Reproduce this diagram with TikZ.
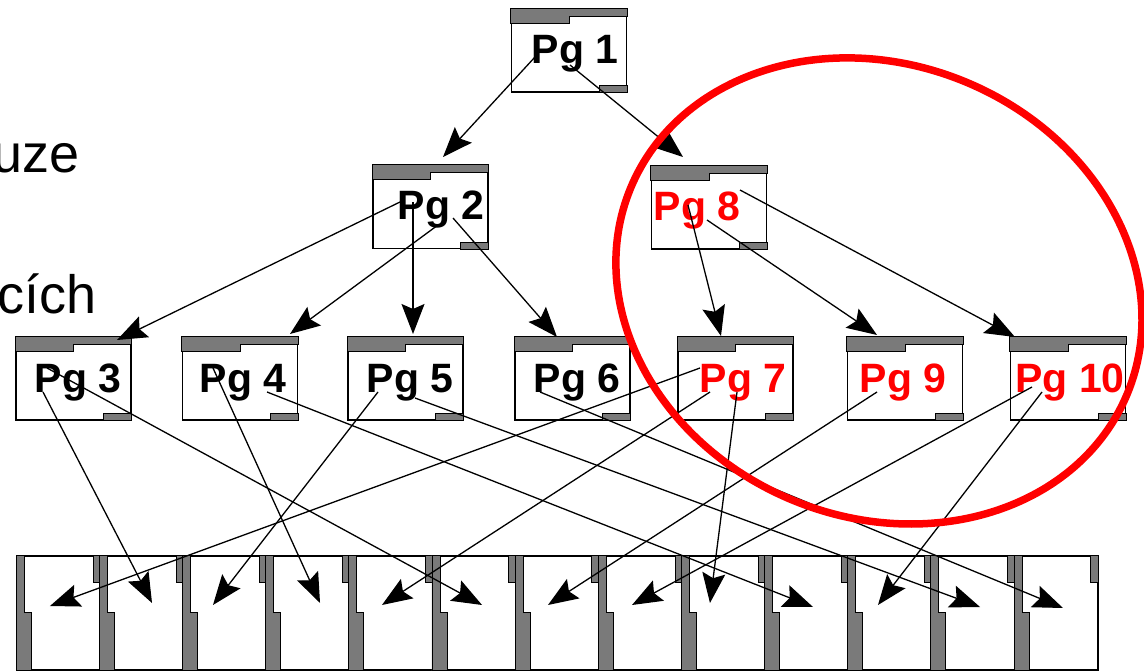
\documentclass[tikz,border=0pt]{standalone}
\usepackage{fontspec}
\setmainfont{Liberation Sans}
\usetikzlibrary{calc,arrows.meta}

\definecolor{hl}{RGB}{255,0,0}

\tikzset{
  pagebox/.style={draw, line width=1.6pt, fill=white,
    minimum width=115pt, minimum height=83pt, inner sep=0pt},
  leafbox/.style={draw, line width=1.6pt, fill=white,
    minimum width=83.15pt, minimum height=114pt, inner sep=0pt},
  hatch/.style={fill=black!52, draw=black, line width=0.9pt},
  pglabel/.style={font=\bfseries\fontsize{41pt}{41pt}\selectfont,
    anchor=base, inner sep=0pt},
  sidetext/.style={font=\fontsize{54pt}{54pt}\selectfont,
    anchor=base east, inner sep=0pt},
  link/.style={line width=1.3pt,
    -{Stealth[length=30pt,width=23pt,inset=5pt]}},
}

% index page: frame, stepped header band, small footer tab
\newcommand\pagenode[2]{%
  \node[pagebox] (#1) at (#2) {};
  \draw[hatch] (#1.north west) -- (#1.north east) -- ($(#1.north east)+(0,8)$)
    -- ($(#1.north)+(0,8)$) -- ($(#1.north)+(0,15)$)
    -- ($(#1.north west)+(0,15)$) -- cycle;
  \draw[hatch] ($(#1.south east)+(-28,-7)$) rectangle (#1.south east);
}

% leaf page: stepped strip on the left, small tab at the top right
\newcommand\leafnode[2]{%
  \node[leafbox] (#1) at (#2) {};
  \draw[hatch] (#1.north west) -- ($(#1.north west)+(8,0)$)
    -- ($(#1.north west)+(8,57)$) -- ($(#1.north west)+(15,57)$)
    -- ($(#1.south west)+(15,0)$) -- (#1.south west) -- cycle;
  \draw[hatch] ($(#1.north east)+(-8,0)$) rectangle ($(#1.north east)+(0,27)$);
}

\begin{document}
\begin{tikzpicture}[x=1pt, y=-1pt]
\useasboundingbox[fill=white] (0,0) rectangle (1144,671);

% cut-off slide text on the left
\node[sidetext] (t1) at (80,173) {uze};
\node[sidetext] (t2) at (97,313) {cích};

% index pages
\pagenode{pg1}{569,50.5}
\pagenode{pg2}{430.5,207}
\pagenode{pg8}{709,207.5}
\pagenode{pg3}{73.5,378.5}
\pagenode{pg4}{240,378.5}
\pagenode{pg5}{405.5,378.5}
\pagenode{pg6}{572.5,378.5}
\pagenode{pg7}{735.5,378.5}
\pagenode{pg9}{905,378.5}
\pagenode{pg10}{1068,378.5}

% leaf pages
\foreach \i in {1,...,13}{
  \leafnode{leaf\i}{17+83.15*\i-41.575,613}
}

% page labels
\node[pglabel] (l1) at (575,64) {Pg 1};
\node[pglabel] (l2) at (441,220) {Pg 2};
\node[pglabel, text=hl] (l8) at (697,221) {Pg 8};
\node[pglabel] (l3) at (78,392) {Pg 3};
\node[pglabel] (l4) at (243,392) {Pg 4};
\node[pglabel] (l5) at (410,392) {Pg 5};
\node[pglabel] (l6) at (577,392) {Pg 6};
\node[pglabel, text=hl] (l7) at (743,392) {Pg 7};
\node[pglabel, text=hl] (l9) at (903,392) {Pg 9};
\node[pglabel, text=hl] (l10) at (1070,392) {Pg 10};

% root level
\draw[link] ($(pg1)+(-34,6.5)$) -- ($(pg2)+(12.5,-50)$);
\draw[link] ($(pg1)+(1,14.5)$) -- ($(pg8)+(-26,-50.5)$);

% second level
\draw[link] ($(pg2)+(-30.5,-5)$) -- ($(pg3)+(43.5,-38.5)$);
\draw[link] ($(pg2)+(7.5,18)$) -- ($(pg4)+(50,-44.5)$);
\draw[link] ($(pg2)+(-17.5,-5)$) -- ($(pg5)+(7.5,-44.5)$);
\draw[link] ($(pg2)+(22.5,11)$) -- ($(pg6)+(-15.5,-41.5)$);
\draw[link] ($(pg8)+(-21,-2.5)$) -- ($(pg7)+(-14.5,-42.5)$);
\draw[link] ($(pg8)+(-2,12.5)$) -- ($(pg9)+(-28,-43.5)$);
\draw[link] ($(pg8)+(31,-17.5)$) -- ($(pg10)+(-53,-41.5)$);

% down to the leaves
\draw[link] ($(pg3)+(-30.5,13.5)$) -- ($(leaf2)+(10.3,-10)$);
\draw[link] ($(pg3)+(-26.5,-10.5)$) -- ($(leaf6)+(7.7,-8)$);
\draw[link] ($(pg4)+(-27,-10.5)$) -- ($(leaf4)+(12,-10)$);
\draw[link] ($(pg4)+(27,13.5)$) -- ($(leaf10)+(6.1,-6)$);
\draw[link] ($(pg5)+(-27.5,13.5)$) -- ($(leaf3)+(-11.9,-8)$);
\draw[link] ($(pg5)+(9.5,19.5)$) -- ($(leaf12)+(6.8,-6)$);
\draw[link] ($(pg6)+(-32.5,13.5)$) -- ($(leaf13)+(6.6,-5)$);
\draw[link] ($(pg7)+(-35.5,-10.5)$) -- ($(leaf1)+(-8.6,-7)$);
\draw[link] ($(pg7)+(-25.5,13.5)$) -- ($(leaf5)+(-9.2,-8)$);
\draw[link] ($(pg7)+(1.5,13.5)$) -- ($(leaf9)+(-13.8,-10)$);
\draw[link] ($(pg9)+(-28,13.5)$) -- ($(leaf7)+(-9.5,-8)$);
\draw[link] ($(pg10)+(-36,8.5)$) -- ($(leaf8)+(-8.6,-8)$);
\draw[link] ($(pg10)+(-26,13.5)$) -- ($(leaf11)+(-12.1,-8)$);

% highlighted subtree
\coordinate (ring) at (879,291);
\draw[hl, line width=7.5pt, rotate around={-22.5:(ring)}]
  (ring) ellipse [x radius=268.8pt, y radius=226.3pt];
\end{tikzpicture}
\end{document}
